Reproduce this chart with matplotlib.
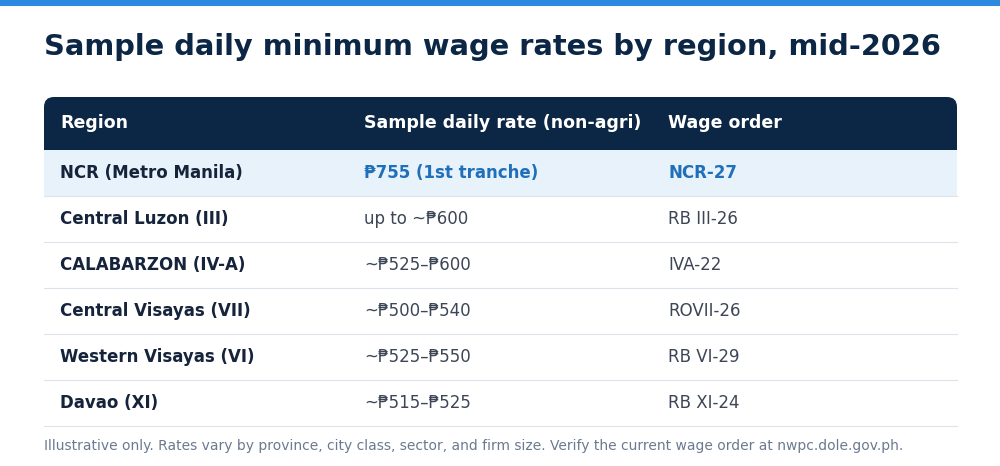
import matplotlib
matplotlib.use("Agg")
import matplotlib.pyplot as plt
from matplotlib.patches import FancyBboxPatch, Rectangle

title = "Sample daily minimum wage rates by region, mid-2026"
headers = ["Region", "Sample daily rate (non-agri)", "Wage order"]
regions = ["NCR (Metro Manila)", "Central Luzon (III)", "CALABARZON (IV-A)",
           "Central Visayas (VII)", "Western Visayas (VI)", "Davao (XI)"]
rates = ["₱755 (1st tranche)", "up to ~₱600", "~₱525–₱600",
         "~₱500–₱540", "~₱525–₱550", "~₱515–₱525"]
orders = ["NCR-27", "RB III-26", "IVA-22", "ROVII-26", "RB VI-29", "RB XI-24"]
footer = ("Illustrative only. Rates vary by province, city class, sector, and firm size. "
          "Verify the current wage order at nwpc.dole.gov.ph.")

plt.rcParams['font.family'] = ['DejaVu Sans']
fig = plt.figure(figsize=(10, 4.66), dpi=100)
ax = fig.add_axes([0, 0, 1, 1])
ax.set_xlim(0, 1000); ax.set_ylim(466, 0); ax.axis("off")

ax.add_patch(Rectangle((0, 0), 1000, 6, color="#2e8ae0", lw=0))
ax.text(44, 47, title, fontsize=20.8, fontweight="bold", color="#0c2645", va="center")

L, R = 44, 957
navy = "#0c2645"
ax.add_patch(FancyBboxPatch((L, 97), R - L, 53, boxstyle="round,pad=0,rounding_size=10",
                            color=navy, lw=0, mutation_aspect=1))
ax.add_patch(Rectangle((L, 125), R - L, 25, color=navy, lw=0))
cols = [60, 364, 668]
for x, h in zip(cols, headers):
    ax.text(x, 123.5, h, fontsize=12.5, fontweight="bold", color="white", va="center")

top, rh = 150, 46
for i, (rg, rt, od) in enumerate(zip(regions, rates, orders)):
    y0 = top + i * rh
    yc = y0 + rh / 2
    if i == 0:
        ax.add_patch(Rectangle((L, y0), R - L, rh, color="#e8f2fb", lw=0))
        c2, w2 = "#1f6fba", "bold"
    else:
        c2, w2 = "#3c4656", "normal"
    ax.plot([L, R], [y0 + rh, y0 + rh], color="#dde3ea", lw=0.8)
    ax.text(cols[0], yc, rg, fontsize=12, fontweight="bold", color="#15233b", va="center")
    ax.text(cols[1], yc, rt, fontsize=12, fontweight=w2, color=c2, va="center")
    ax.text(cols[2], yc, od, fontsize=12, fontweight=w2, color=c2, va="center")

ax.text(44, 446, footer, fontsize=10, color="#6b7a90", va="center")
fig.savefig("out.png", dpi=100)
